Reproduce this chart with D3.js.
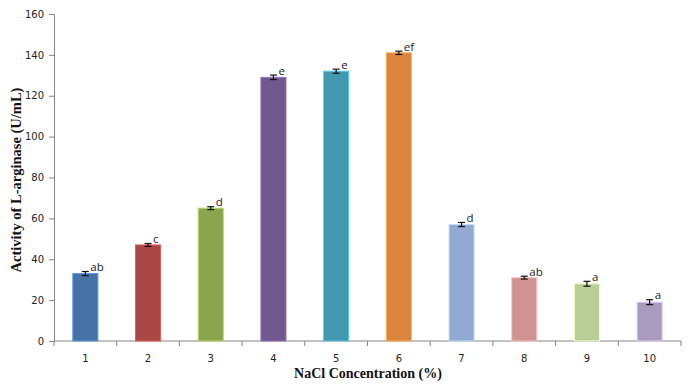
<!DOCTYPE html>
<html><head><meta charset="utf-8">
<script src="https://cdn.jsdelivr.net/npm/d3@7"></script>
<style>html,body{margin:0;padding:0;background:#fff;}svg{display:block;}</style>
</head><body>
<svg id="c" width="689" height="385"></svg>
<script>
const categories = ["1","2","3","4","5","6","7","8","9","10"];
const values = [33, 47, 65, 129, 132, 141, 57, 31, 28, 19];
const errors = [1.0, 0.7, 0.7, 1.1, 1.0, 0.8, 1.0, 0.7, 1.2, 1.2];
const letters = ["ab","c","d","e","e","ef","d","ab","a","a"];
const colors = ["#4572A7","#AA4643","#89A54E","#71588F","#4198AF","#DB843D","#93A9CF","#D19392","#B9CD96","#A99BBD"];
const yTicks = [0,20,40,60,80,100,120,140,160];

const svg = d3.select("#c");
const L = 54, R = 681, T = 14, B = 341;
const x = d3.scaleBand().domain(categories).range([L, R]).paddingInner(0.6).paddingOuter(0.3);
const y = d3.scaleLinear().domain([0,160]).range([B, T]);

// y axis
const ya = svg.append("g").attr("transform", `translate(${L},0)`)
  .call(d3.axisLeft(y).tickValues(yTicks).tickSize(5).tickPadding(5));
ya.selectAll("path,line").attr("stroke","#868686");
ya.selectAll("text").attr("font-family","DejaVu Sans, sans-serif").attr("font-size","10px").attr("fill","#222");

// x axis with ticks at boundaries
const xa = svg.append("g").attr("transform", `translate(0,${B})`);
xa.append("line").attr("x1",L).attr("x2",R).attr("stroke","#868686");
const step = x.step();
d3.range(categories.length+1).forEach(i=>{
  const xx = L + i*step;
  xa.append("line").attr("x1",xx).attr("x2",xx).attr("y1",0).attr("y2",5).attr("stroke","#868686");
});
xa.selectAll("text.tl").data(categories).join("text").attr("class","tl")
  .attr("x", d=>x(d)+x.bandwidth()/2).attr("y", 21)
  .attr("text-anchor","middle").attr("font-family","DejaVu Sans, sans-serif").attr("font-size","10px").attr("fill","#222")
  .text(d=>d);

// bars
svg.selectAll("rect.bar").data(values).join("rect").attr("class","bar")
  .attr("x",(d,i)=>x(categories[i])).attr("width",x.bandwidth())
  .attr("y",d=>y(d)).attr("height",d=>B-y(d))
  .attr("fill",(d,i)=>colors[i])
  .attr("stroke",(d,i)=>d3.color(colors[i]).brighter(0.8)).attr("stroke-width",1);

// error bars
const eb = svg.append("g").attr("stroke","#111").attr("stroke-width",1.2);
values.forEach((v,i)=>{
  const cx = x(categories[i]) + x.bandwidth()/2;
  const y1 = y(v+errors[i]), y2 = y(v-errors[i]);
  eb.append("line").attr("x1",cx).attr("x2",cx).attr("y1",y1).attr("y2",y2);
  eb.append("line").attr("x1",cx-3.5).attr("x2",cx+3.5).attr("y1",y1).attr("y2",y1);
  eb.append("line").attr("x1",cx-3.5).attr("x2",cx+3.5).attr("y1",y2).attr("y2",y2);
});

// letters
svg.selectAll("text.sig").data(letters).join("text").attr("class","sig")
  .attr("x",(d,i)=>x(categories[i])+x.bandwidth()/2+5)
  .attr("y",(d,i)=>y(values[i]+errors[i])-0.5)
  .attr("font-family","Open Sans, sans-serif").attr("font-size","11.5px").attr("fill","#1a1a2a")
  .text(d=>d);

// axis titles
svg.append("text").attr("x",368).attr("y",378).attr("text-anchor","middle")
  .attr("font-family","Liberation Serif, serif").attr("font-weight","bold").attr("font-size","14px").attr("fill","#111")
  .text("NaCl Concentration (%)");
svg.append("text").attr("transform","translate(21,180) rotate(-90)").attr("text-anchor","middle")
  .attr("font-family","Liberation Serif, serif").attr("font-weight","bold").attr("font-size","14.5px").attr("fill","#111")
  .text("Activity of L-arginase (U/mL)");
</script>
</body></html>
